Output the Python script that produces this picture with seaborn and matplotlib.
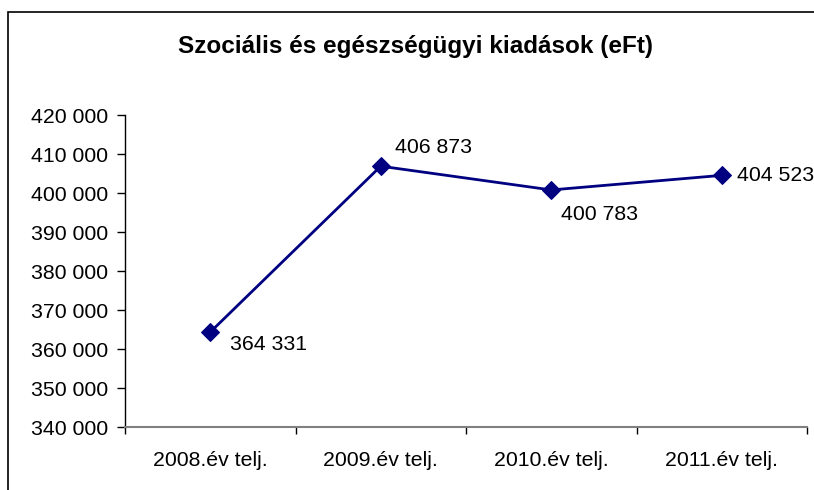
import numpy as np
import pandas as pd
import seaborn as sns
import matplotlib.pyplot as plt
from matplotlib.patches import Rectangle
from matplotlib.ticker import FuncFormatter, FixedLocator

# Chart data
years = ["2008.év telj.", "2009.év telj.", "2010.év telj.", "2011.év telj."]
spending = [364331, 406873, 400783, 404523]
label_offsets = [(20, -12), (14, 19), (10, -25), (15, 0)]  # pixel offsets for value labels

df = pd.DataFrame({"ev": np.arange(len(years)), "kiadas": spending})

sns.set_style("white")
plt.rcParams["font.family"] = ["Liberation Sans", "DejaVu Sans"]
plt.rcParams["text.color"] = "black"
plt.rcParams["xtick.color"] = "black"
plt.rcParams["ytick.color"] = "black"

fs = 15.3

fig = plt.figure(figsize=(8.14, 4.9), dpi=100)
ax = fig.add_axes([125 / 814, 1 - 427 / 490, (807 - 125) / 814, (427 - 115) / 490])

sns.lineplot(data=df, x="ev", y="kiadas", ax=ax, color="#000080", linewidth=2,
             marker="D", markersize=9, markeredgecolor="#000080")

# value labels
for i, v in enumerate(spending):
    dx, dy = label_offsets[i]
    txt = f"{v:,}".replace(",", " ")
    ax.annotate(txt, (i, v), xytext=(dx, dy), textcoords="offset pixels",
                ha="left", va="center", fontsize=fs, color="black")

ax.set_xlim(-0.5, len(years) - 0.5)
ax.set_ylim(340000, 420000)
ax.set_yticks(np.arange(340000, 420001, 10000))
ax.yaxis.set_major_formatter(FuncFormatter(lambda v, p: f"{int(v):,}".replace(",", " ")))
ax.set_xticks(np.arange(len(years)))
ax.set_xticklabels(years)
ax.xaxis.set_minor_locator(FixedLocator(np.arange(-0.5, len(years), 1.0)))
ax.tick_params(axis="x", which="major", length=0, pad=17, labelsize=fs)
ax.tick_params(axis="x", which="minor", length=5, width=1, color="black", direction="out", bottom=True)
ax.tick_params(axis="y", length=6, width=1, color="black", direction="out", left=True, labelsize=fs, pad=6)
ax.set_xlabel("")
ax.set_ylabel("")

for s in ["top", "right"]:
    ax.spines[s].set_visible(False)
ax.spines["left"].set_color("black")
ax.spines["left"].set_linewidth(1)
ax.spines["bottom"].set_color("#808080")
ax.spines["bottom"].set_linewidth(1.5)

fig.text(416 / 814, 1 - 46 / 490, "Szociális és egészségügyi kiadások (eFt)",
         ha="center", va="center", fontsize=17.5, fontweight="bold", color="black")

# outer chart frame (cut off at right and bottom)
fig.patches.append(Rectangle((8 / 814, -0.05), 1.1, 1 - 12 / 490 + 0.05,
                             transform=fig.transFigure, fill=False,
                             edgecolor="black", linewidth=1.2))

fig.savefig("out.png", dpi=100)
